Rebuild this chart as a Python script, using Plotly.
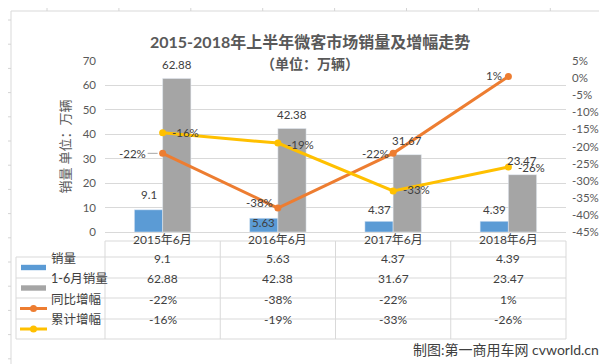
import plotly.graph_objects as go

# ---------------- data ----------------
categories = ["2015年6月", "2016年6月", "2017年6月", "2018年6月"]
sales = [9.1, 5.63, 4.37, 4.39]
sales_h1 = [62.88, 42.38, 31.67, 23.47]
yoy = [-0.22, -0.38, -0.22, 0.005]
cum = [-0.16, -0.19, -0.33, -0.26]
yoy_labels = ["-22%", "-38%", "-22%", "1%"]
cum_labels = ["-16%", "-19%", "-33%", "-26%"]
series_names = ["销量", "1-6月销量", "同比增幅", "累计增幅"]
left_ticks = [0, 10, 20, 30, 40, 50, 60, 70]
right_ticks = [0.05, 0.0, -0.05, -0.10, -0.15, -0.20, -0.25, -0.30, -0.35, -0.40, -0.45]
right_tick_labels = ["5%", "0%", "-5%", "-10%", "-15%", "-20%", "-25%", "-30%", "-35%", "-40%", "-45%"]
title_text = "2015-2018年上半年微客市场销量及增幅走势"
subtitle_text = "（单位：万辆）"
yaxis_title = "销量 单位：万辆"
footer_text = "制图:第一商用车网 cvworld.cn"

# ---------------- styles ----------------
BLUE, GRAY, ORANGE, YELLOW = "#5B9BD5", "#A5A5A5", "#ED7D31", "#FFC000"
GRID = "#D9D9D9"
TXT = "#404040"
AX = "#595959"
FONT = "Lato, 'Noto Sans CJK SC', sans-serif"
CJK = "'Noto Sans CJK SC', sans-serif"

W, H = 607, 364
L, R, T, B = 97, 558, 53, 224


def px(x):
    return (x - L) / (R - L)


def py(y):
    return (B - y) / (B - T)


fig = go.Figure()
fig.add_trace(go.Bar(x=categories, y=sales, name=series_names[0], marker_color=BLUE, yaxis="y"))
fig.add_trace(go.Bar(x=categories, y=sales_h1, name=series_names[1], marker_color=GRAY, yaxis="y"))
fig.add_trace(go.Scatter(x=categories, y=yoy, name=series_names[2], yaxis="y2", mode="lines+markers",
                         line=dict(color=ORANGE, width=3), marker=dict(color=ORANGE, size=7)))
fig.add_trace(go.Scatter(x=categories, y=cum, name=series_names[3], yaxis="y2", mode="lines+markers",
                         line=dict(color=YELLOW, width=3), marker=dict(color=YELLOW, size=7)))

ann = []
shapes = []

# bar labels
blue_yshift = [15, -4, 12, 12]
for i, c in enumerate(categories):
    ann.append(dict(x=c, y=sales[i], xref="x", yref="y", text=str(sales[i]), showarrow=False,
                    xshift=-14, yshift=blue_yshift[i], font=dict(family=FONT, size=11.5, color=TXT)))
    ann.append(dict(x=c, y=sales_h1[i], xref="x", yref="y", text=str(sales_h1[i]), showarrow=False,
                    xshift=14, yshift=14, font=dict(family=FONT, size=11.5, color=TXT)))

# line labels
yoy_shift = [(-30, 0), (-18, 6), (-18, 0), (-14, 1)]
cum_shift = [(23, 0), (23, -1), (23, 1), (23, 0)]
for i, c in enumerate(categories):
    if i == 0:
        ann.append(dict(x=c, y=yoy[i], xref="x", yref="y2", text=yoy_labels[i], showarrow=True,
                        ax=-30, ay=0, arrowhead=0, arrowwidth=1, arrowcolor="#A6A6A6", standoff=5,
                        font=dict(family=FONT, size=11.5, color=TXT)))
    else:
        ann.append(dict(x=c, y=yoy[i], xref="x", yref="y2", text=yoy_labels[i], showarrow=False,
                        xshift=yoy_shift[i][0], yshift=yoy_shift[i][1],
                        font=dict(family=FONT, size=11.5, color=TXT)))
    ann.append(dict(x=c, y=cum[i], xref="x", yref="y2", text=cum_labels[i], showarrow=False,
                    xshift=cum_shift[i][0], yshift=cum_shift[i][1],
                    font=dict(family=FONT, size=11.5, color=TXT)))

# titles
ann.append(dict(x=px(302), y=py(22), xref="paper", yref="paper", text="<b>" + title_text + "</b>",
                showarrow=False, font=dict(family=FONT, size=16, color=AX)))
ann.append(dict(x=px(302), y=py(43), xref="paper", yref="paper", text="<b>" + subtitle_text + "</b>",
                showarrow=False, font=dict(family=CJK, size=14, color=AX)))
ann.append(dict(x=px(44), y=py(139), xref="paper", yref="paper", text=yaxis_title, textangle=-90,
                showarrow=False, font=dict(family=CJK, size=13, color=AX)))
ann.append(dict(x=px(593), y=py(352), xref="paper", yref="paper", text=footer_text, xanchor="right",
                showarrow=False, font=dict(family=FONT, size=14, color=TXT)))

# ---------------- data table ----------------
row_lines = [233, 249, 270, 290, 311, 331]
col_w = (R - L) / len(categories)
col_lines = [L + col_w * k for k in range(len(categories) + 1)]


def hline(y, x0, x1, color=GRID):
    shapes.append(dict(type="line", xref="paper", yref="paper", x0=px(x0), x1=px(x1), y0=py(y), y1=py(y),
                       line=dict(color=color, width=1)))


def vline(x, y0, y1, color=GRID):
    shapes.append(dict(type="line", xref="paper", yref="paper", x0=px(x), x1=px(x), y0=py(y0), y1=py(y1),
                       line=dict(color=color, width=1)))


hline(row_lines[0], L, R)
for y in row_lines[1:]:
    hline(y, 8, R)
vline(8, row_lines[1], row_lines[-1])
for x in col_lines:
    vline(x, row_lines[0], row_lines[-1])

row_c = [(row_lines[k] + row_lines[k + 1]) / 2 for k in range(len(row_lines) - 1)]
table_rows = [[str(v) for v in sales], [str(v) for v in sales_h1], yoy_labels, cum_labels]
for i, c in enumerate(categories):
    ann.append(dict(x=c, y=py(row_c[0]), xref="x", yref="paper", text=c, showarrow=False,
                    font=dict(family=FONT, size=12, color=TXT)))
    for r in range(4):
        ann.append(dict(x=c, y=py(row_c[r + 1]), xref="x", yref="paper", text=table_rows[r][i],
                        showarrow=False, font=dict(family=FONT, size=12, color=TXT)))
for r in range(4):
    ann.append(dict(x=px(41), y=py(row_c[r + 1]), xref="paper", yref="paper", text=series_names[r],
                    xanchor="left", showarrow=False, font=dict(family=FONT, size=12.5, color=TXT)))

# legend keys in table
for r, col in enumerate([BLUE, GRAY]):
    yc = row_c[r + 1]
    shapes.append(dict(type="rect", xref="paper", yref="paper", x0=px(13), x1=px(38), y0=py(yc - 2.7),
                       y1=py(yc + 2.7), fillcolor=col, line=dict(width=0)))
for r, col in zip([2, 3], [ORANGE, YELLOW]):
    yc = row_c[r + 1]
    shapes.append(dict(type="line", xref="paper", yref="paper", x0=px(12), x1=px(39), y0=py(yc), y1=py(yc),
                       line=dict(color=col, width=3)))
    shapes.append(dict(type="circle", xref="paper", yref="paper", x0=px(22), x1=px(29), y0=py(yc - 3.5),
                       y1=py(yc + 3.5), fillcolor=col, line=dict(width=0)))

# chart border and sheet grid fragments
SHEET = "#D4D4D4"
shapes.append(dict(type="rect", xref="paper", yref="paper", x0=px(3), x1=px(603), y0=py(3), y1=py(358),
                   line=dict(color=GRID, width=1)))
for k in range(8):
    x = 39 + 71.9 * k
    vline(x, 0, 3, SHEET)
    vline(x, 358, 364, SHEET)
for k in range(15):
    y = 12 + 24.2 * k
    hline(y, 0, 3, SHEET)
    hline(y, 603, 607, SHEET)

fig.update_layout(
    width=W, height=H, autosize=False,
    margin=dict(l=L, r=W - R, t=T, b=H - B, pad=0, autoexpand=False),
    paper_bgcolor="white", plot_bgcolor="white",
    barmode="group", bargap=0.51, bargroupgap=0,
    showlegend=False,
    xaxis=dict(type="category", range=[-0.5, 3.5], showticklabels=False, showgrid=False,
               zeroline=False, showline=False, ticks="", automargin=False),
    yaxis=dict(range=[0, 70], tickvals=left_ticks, showgrid=True, gridcolor=GRID, gridwidth=1,
               zeroline=True, zerolinecolor=GRID, zerolinewidth=1, showline=False, ticks="",
               ticklabelstandoff=8, automargin=False, tickfont=dict(family=FONT, size=11.5, color=AX)),
    yaxis2=dict(overlaying="y", side="right", range=[-0.45, 0.05], tickvals=right_ticks,
                ticktext=right_tick_labels, showgrid=False, zeroline=False, showline=False, ticks="",
                ticklabelstandoff=5, automargin=False, tickfont=dict(family=FONT, size=11.5, color=AX)),
    annotations=ann,
    shapes=shapes,
)

fig.write_html("out.html")
